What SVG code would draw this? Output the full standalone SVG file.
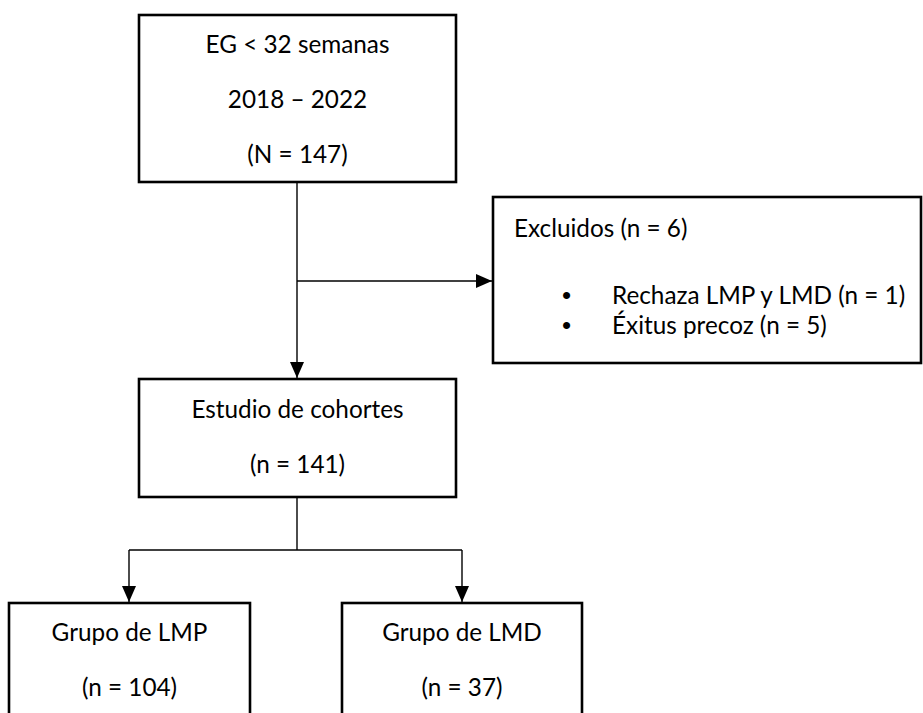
<svg xmlns="http://www.w3.org/2000/svg" width="923" height="713" viewBox="0 0 923 713">
<style>
.box{fill:#fff;stroke:#000;stroke-width:2.6}
.t{font-family:Lato,"Liberation Sans",sans-serif;font-size:24.3px;fill:#000}
.c{text-anchor:middle}
.b{font-family:"Liberation Sans",sans-serif;font-size:26px}
.ln{fill:none;stroke:#000;stroke-width:1.4}
</style>
<defs>
<marker id="ah" viewBox="0 0 16 14" refX="16" refY="7" markerWidth="16" markerHeight="14" markerUnits="userSpaceOnUse" orient="auto">
<path d="M0,0 L16,7 L0,14 Z" fill="#000"/>
</marker>
</defs>
<g id="connectors">
<path class="ln" d="M297,182 V378" marker-end="url(#ah)"/>
<path class="ln" d="M297,281 H492" marker-end="url(#ah)"/>
<path class="ln" d="M297,497 V550"/>
<path class="ln" d="M129,550 H462"/>
<path class="ln" d="M129,550 V602" marker-end="url(#ah)"/>
<path class="ln" d="M462,550 V602" marker-end="url(#ah)"/>
</g>
<g id="node-inicio">
<rect class="box" x="139" y="15" width="317" height="167"/>
<text class="t c" x="297.5" y="53">EG &lt; 32 semanas</text>
<text class="t c" x="297.5" y="108">2018 – 2022</text>
<text class="t c" x="297.5" y="163">(N = 147)</text>
</g>
<g id="node-excluidos">
<rect class="box" x="493" y="197" width="428" height="166"/>
<text class="t" x="514" y="237">Excluidos (n = 6)</text>
<text class="t b" x="562" y="304">•</text>
<text class="t" x="612" y="304">Rechaza LMP y LMD (n = 1)</text>
<text class="t b" x="562" y="334">•</text>
<text class="t" x="612" y="334">Éxitus precoz (n = 5)</text>
</g>
<g id="node-cohortes">
<rect class="box" x="139" y="379" width="317" height="118"/>
<text class="t c" x="297.5" y="418">Estudio de cohortes</text>
<text class="t c" x="297.5" y="473">(n = 141)</text>
</g>
<g id="node-lmp">
<rect class="box" x="9" y="603" width="241" height="130"/>
<text class="t c" x="129.5" y="641">Grupo de LMP</text>
<text class="t c" x="129.5" y="696">(n = 104)</text>
</g>
<g id="node-lmd">
<rect class="box" x="342" y="603" width="240" height="130"/>
<text class="t c" x="462" y="641">Grupo de LMD</text>
<text class="t c" x="462" y="696">(n = 37)</text>
</g>
</svg>
